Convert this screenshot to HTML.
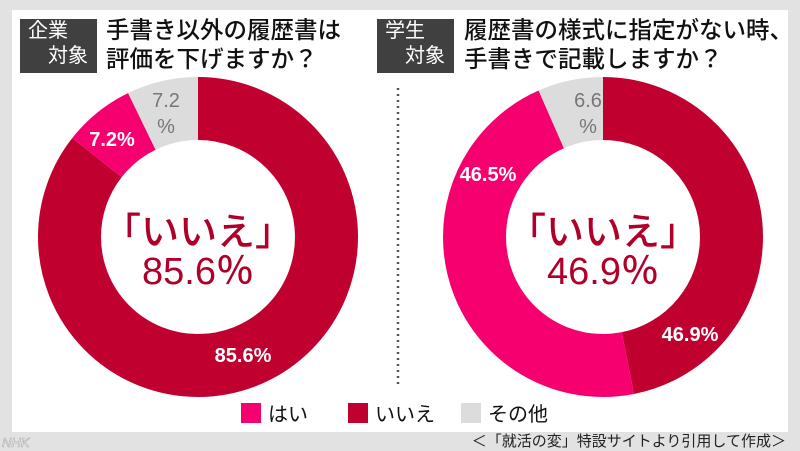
<!DOCTYPE html><html><head><meta charset="utf-8"><style>
body{margin:0;width:800px;height:451px;background:#e2e2e2;overflow:hidden;font-family:"Liberation Sans","Noto Sans CJK JP",sans-serif}
.p{position:absolute;left:12px;top:10px;width:776px;height:422px;background:#fff}
.box{position:absolute;background:#404040;color:#fff;font-size:20px;line-height:25px;width:77px;height:54px}
.t{position:absolute;font-size:23.5px;line-height:29px;color:#111;white-space:nowrap;font-weight:500}
</style></head><body>
<div class="p"></div>
<div class="box" style="left:20px;top:19px"><div style="padding-left:8px">企業</div><div style="padding-left:28px">対象</div></div>
<div class="t" style="left:106px;top:16px">手書き以外の履歴書は<br>評価を下げますか？</div>
<div class="box" style="left:377px;top:19px"><div style="padding-left:8px">学生</div><div style="padding-left:28px">対象</div></div>
<div class="t" style="left:464px;top:16px">履歴書の様式に指定がない時、<br>手書きで記載しますか？</div>
<svg width="800" height="451" style="position:absolute;left:0;top:0">
<line x1="398" y1="88" x2="398" y2="388" stroke="#555" stroke-width="2.5" stroke-dasharray="2,4"/>
<g transform="rotate(-90 198 237)" fill="none" stroke-width="63">
<circle cx="198" cy="237" r="128.5" stroke="#c0002f" pathLength="100" stroke-dasharray="85.6 100"/>
<circle cx="198" cy="237" r="128.5" stroke="#f5006e" pathLength="100" stroke-dasharray="0 85.6 7.2 100"/>
<circle cx="198" cy="237" r="128.5" stroke="#dcdcdc" pathLength="100" stroke-dasharray="0 92.8 7.2 100"/>
</g>
<g transform="rotate(-90 603 237)" fill="none" stroke-width="63">
<circle cx="603" cy="237" r="128.5" stroke="#c0002f" pathLength="100" stroke-dasharray="46.9 100"/>
<circle cx="603" cy="237" r="128.5" stroke="#f5006e" pathLength="100" stroke-dasharray="0 46.9 46.5 100"/>
<circle cx="603" cy="237" r="128.5" stroke="#dcdcdc" pathLength="100" stroke-dasharray="0 93.4 6.6 100"/>
</g>
<g font-family="Liberation Sans,Noto Sans CJK JP,sans-serif">
<g font-weight="500">
<text x="198" y="245" text-anchor="middle" font-size="38" fill="#b0002a">「いいえ」</text>
<text x="198" y="284" text-anchor="middle" font-size="38" fill="#b0002a">85.6％</text>
<text x="603" y="245" text-anchor="middle" font-size="38" fill="#b0002a">「いいえ」</text>
<text x="603" y="284" text-anchor="middle" font-size="38" fill="#b0002a">46.9％</text>
</g>
<g fill="#fff" font-size="20" font-weight="bold">
<text x="243" y="362" text-anchor="middle">85.6%</text>
<text x="112" y="146" text-anchor="middle">7.2%</text>
<text x="488" y="181" text-anchor="middle">46.5%</text>
<text x="690" y="341" text-anchor="middle">46.9%</text>
</g>
<g fill="#777" font-size="20" text-anchor="middle">
<text x="166" y="107">7.2</text><text x="166" y="133">%</text>
<text x="588" y="107">6.6</text><text x="588" y="133">%</text>
</g>
<rect x="241" y="403" width="20" height="20" fill="#f5006e"/>
<text x="268" y="421" font-size="20" fill="#111">はい</text>
<rect x="348" y="403" width="20" height="20" fill="#c0002f"/>
<text x="375" y="421" font-size="20" fill="#111">いいえ</text>
<rect x="461" y="403" width="20" height="20" fill="#dcdcdc"/>
<text x="488" y="421" font-size="20" fill="#111">その他</text>
<text x="786" y="446" text-anchor="end" font-size="15" fill="#222">＜「就活の変」特設サイトより引用して作成＞</text>
<text x="2" y="447" font-size="13" font-style="italic" fill="#fff" stroke="#aaa" stroke-width="0.6">NHK</text>
</g>
</svg>
</body></html>
